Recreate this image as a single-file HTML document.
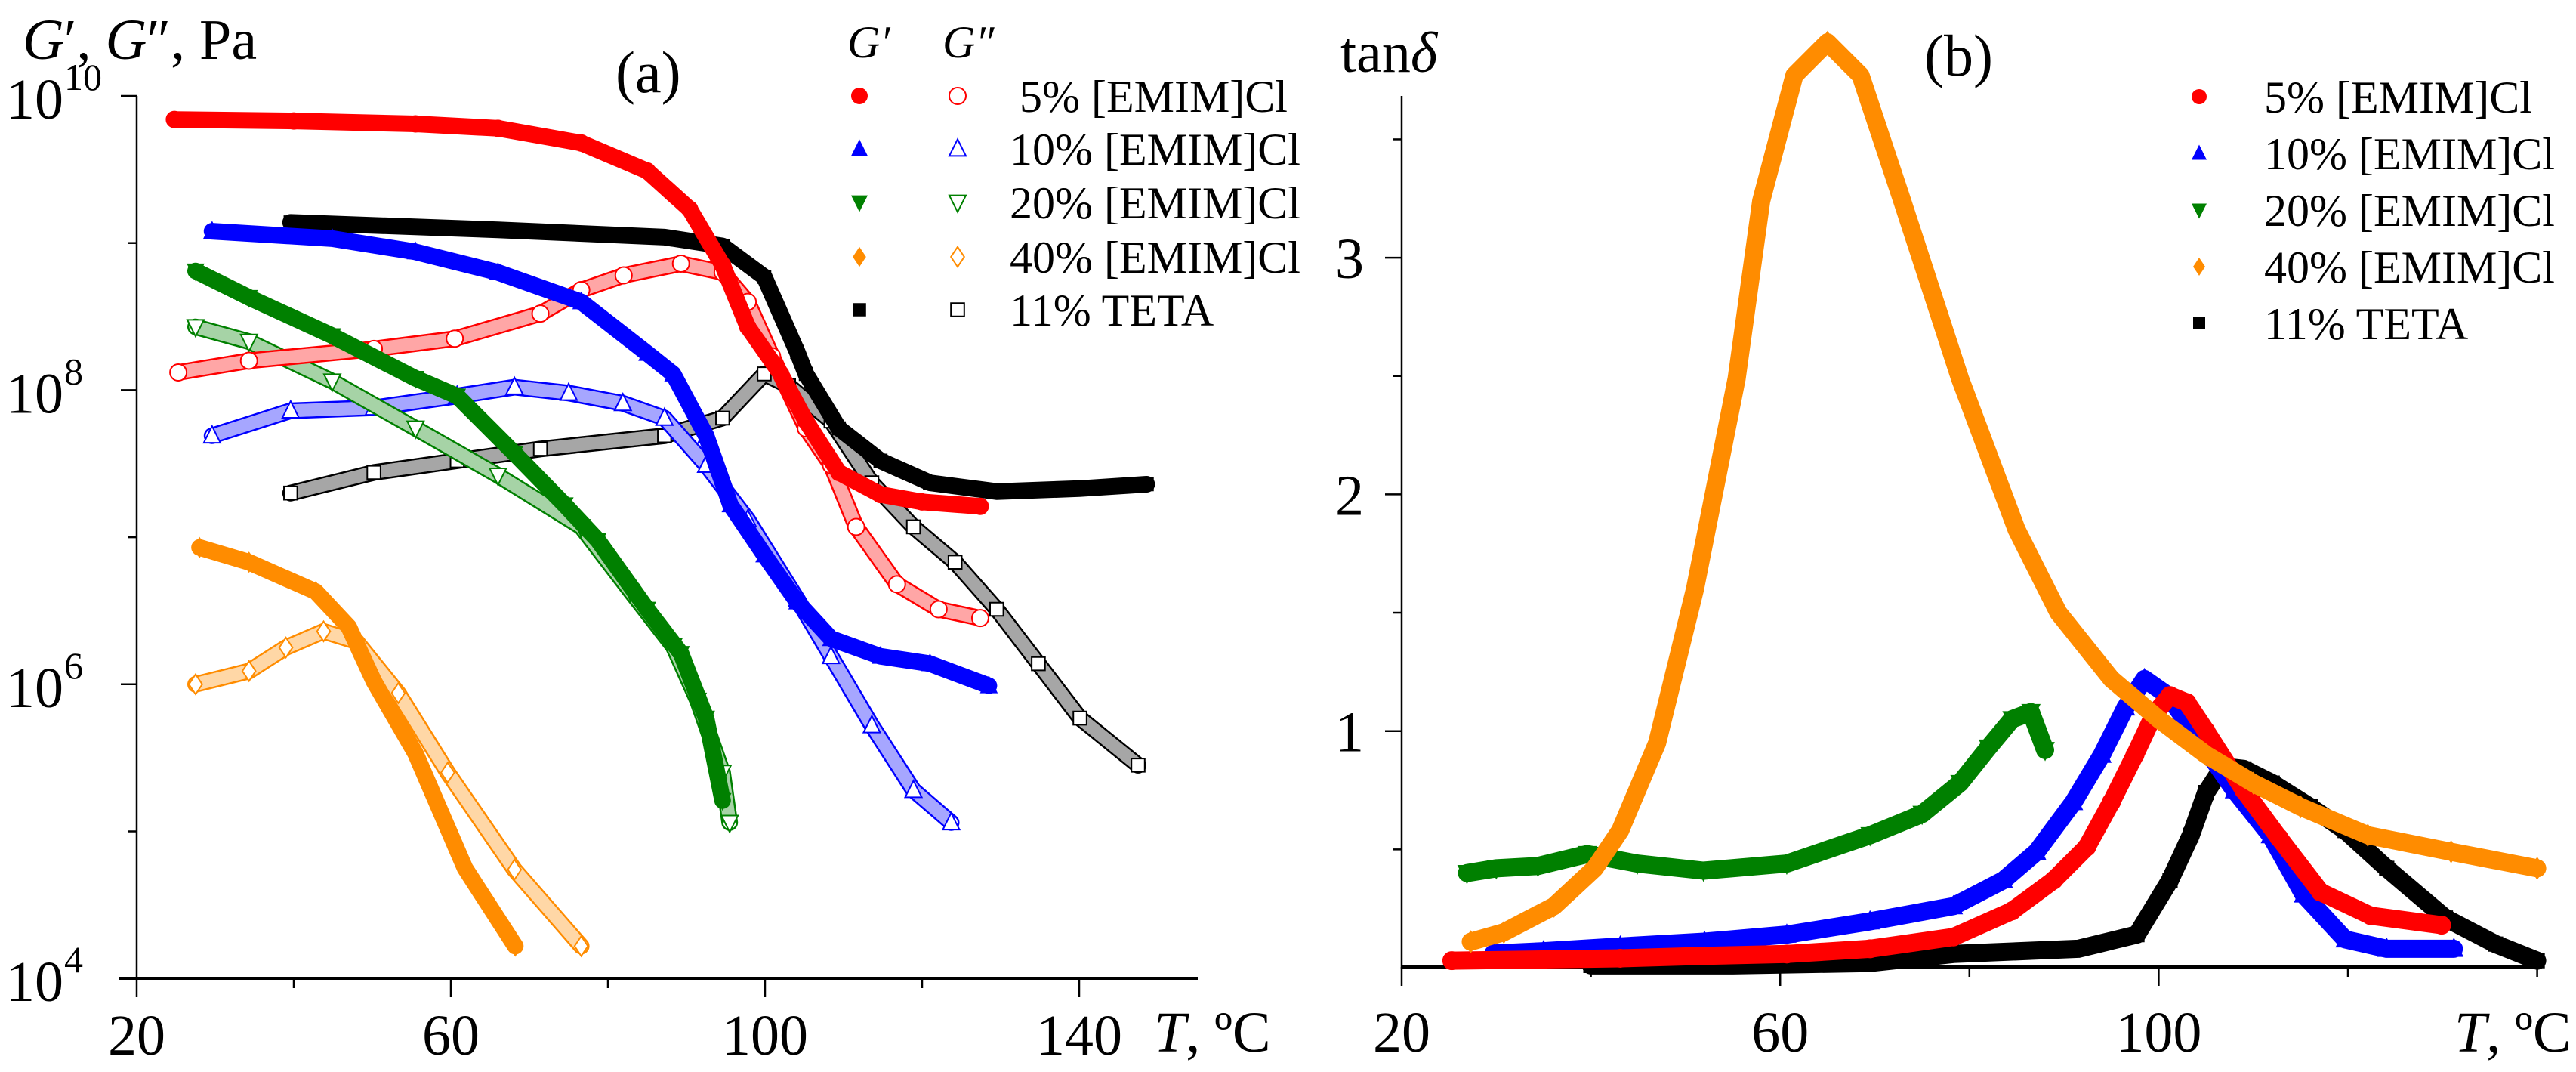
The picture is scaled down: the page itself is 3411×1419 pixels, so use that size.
<!DOCTYPE html>
<html><head><meta charset="utf-8"><title>G', G'' and tan delta vs temperature</title>
<style>
html,body{margin:0;padding:0;background:#fff;}
svg{display:block;font-family:"Liberation Serif","DejaVu Serif",serif;}
</style></head>
<body>
<svg id="chart" xmlns="http://www.w3.org/2000/svg" width="3411" height="1419" viewBox="0 0 3411 1419">
<rect x="0" y="0" width="3411" height="1419" fill="#fff"/>
<g id="panelA">
  <text x="30" y="78" font-size="76"><tspan font-style="italic">G</tspan>′, <tspan font-style="italic">G</tspan>″, Pa</text>
  <text x="815" y="122" font-size="78">(a)</text>
  <text x="1528" y="1392" font-size="76"><tspan font-style="italic">T</tspan>, ºC</text>
  <g id="legendA">
    <text x="1122" y="76" font-size="60" font-style="italic">G′</text>
    <text x="1248" y="76" font-size="60" font-style="italic">G″</text>
  </g>
</g>
<g id="panelB">
  <text x="1775" y="95" font-size="76">tan<tspan font-style="italic">δ</tspan></text>
  <text x="2548" y="100" font-size="78">(b)</text>
  <text x="3250" y="1392" font-size="76"><tspan font-style="italic">T</tspan>, ºC</text>
  <g id="legendB"></g>
</g>
</svg>
<script>
// ---------- Panel (a) data: temperature (°C) and log10(G / Pa) ----------
const gp5T   = [24.8,40,55.5,66,76.6,85,90.4,94.6,97.8,102,105.2,109.4,114.7,120,127.4];
const gp5    = [9.84,9.83,9.81,9.78,9.68,9.49,9.23,8.85,8.43,8.11,7.79,7.44,7.29,7.24,7.21];
const gpp5T  = [25.3,34.3,50.2,60.5,71.4,76.6,82,89.3,94.6,97.8,100.9,105.2,108.4,111.6,116.8,122.1,127.4];
const gpp5   = [8.12,8.20,8.28,8.35,8.52,8.68,8.78,8.86,8.80,8.60,8.23,7.74,7.49,7.07,6.68,6.51,6.45];
const gp10T  = [29.6,44.9,55.5,66,76.6,85,88.3,92.5,95.6,99.9,104.1,108.4,114.7,121,128.5];
const gp10   = [9.08,9.03,8.94,8.80,8.60,8.25,8.11,7.69,7.22,6.88,6.56,6.31,6.19,6.14,5.99];
const gpp10T = [29.6,39.6,50.2,60.8,68.1,75,81.9,87.2,92.5,97.8,104.1,108.4,113.6,118.9,123.7];
const gpp10  = [7.69,7.86,7.88,7.96,8.02,7.98,7.91,7.81,7.49,7.12,6.58,6.19,5.72,5.28,5.06];
const gp20T  = [27.5,34.3,44.9,55.5,60.8,68.1,74.5,78.7,85,89.3,92.5,94.6];
const gp20   = [8.81,8.63,8.37,8.08,7.96,7.57,7.22,6.98,6.51,6.21,5.77,5.21];
const gpp20T = [27.5,34.3,44.9,55.5,66,76.6,82.9,88.3,91.4,94.6,95.5];
const gpp20  = [8.43,8.33,8.06,7.74,7.42,7.07,6.63,6.26,5.89,5.40,5.06];
const gp40T  = [28,34.3,42.8,47,50.2,55.5,61.8,68.2];
const gp40   = [6.93,6.83,6.63,6.39,6.02,5.53,4.75,4.22];
const gpp40T = [27.5,34.3,39,43.8,48,53.3,59.6,68.1,76.6];
const gpp40  = [6.00,6.09,6.25,6.36,6.29,5.94,5.40,4.74,4.22];
const gpTetaT  = [39.6,66,87.2,94.6,99.9,104.1,105.2,109.4,114.7,121,129.5,140,148.6];
const gpTeta   = [9.14,9.09,9.04,8.98,8.77,8.26,8.11,7.74,7.52,7.37,7.31,7.33,7.36];
const gppTetaT = [39.6,50.2,60.8,71.4,87.2,94.6,99.9,103,108.4,113.6,118.9,124.2,129.5,134.8,140.1,147.5];
const gppTeta  = [7.30,7.44,7.52,7.60,7.69,7.81,8.11,8.03,7.79,7.37,7.07,6.83,6.51,6.14,5.77,5.45];
const xTicksA = [20,60,100,140];
const xMinorA = [40,80,120];
const yTicksA = [10,8,6,4];
const yMinorA = [9,7,5];
const legendLabels = ["5% [EMIM]Cl","10% [EMIM]Cl","20% [EMIM]Cl","40% [EMIM]Cl","11% TETA"];

// ---------- Panel (b) data: temperature (°C) and tan delta ----------
const td40T = [27.3,30.8,36.1,40.4,43.1,47,51,55.4,58,61.5,65,68.5,72.9,79,85,89.4,95,100,105,110,115,122.1,130.9,140];
const td40  = [0.11,0.15,0.26,0.42,0.58,0.95,1.6,2.49,3.24,3.77,3.91,3.77,3.24,2.49,1.85,1.5,1.22,1.05,0.9,0.78,0.68,0.56,0.49,0.42];
const td20T = [26.9,30,34.4,39.6,44.9,51.9,60.7,69.5,75,79,82,84.5,86.5,88];
const td20  = [0.40,0.42,0.43,0.48,0.44,0.41,0.44,0.56,0.65,0.78,0.93,1.05,1.08,0.92];
const td10T = [29.7,35,43.1,52,60.7,69.5,78.3,83.6,87.1,91,94,96.5,98.5,101,104,108,111.8,115.3,119.7,124.1,131.2];
const td10  = [0.06,0.07,0.09,0.11,0.14,0.196,0.26,0.37,0.49,0.7,0.9,1.1,1.22,1.15,0.98,0.75,0.56,0.31,0.12,0.08,0.08];
const td5T  = [25.3,35,43.1,52,60.7,69.5,78.3,84.5,88.9,92.4,95,97.5,99.5,101.2,103,105,109,112.7,117.1,122.4,129.9];
const td5   = [0.03,0.035,0.04,0.05,0.058,0.08,0.13,0.24,0.37,0.51,0.7,0.9,1.07,1.15,1.12,1.0,0.75,0.55,0.32,0.22,0.18];
const tdTetaT = [40,55,69.5,78.3,91.5,97.7,101.2,103.4,105,106.8,109,112,116,119.7,124.1,130.3,135.6,140];
const tdTeta  = [0.01,0.01,0.02,0.058,0.08,0.14,0.37,0.56,0.74,0.85,0.84,0.78,0.68,0.58,0.42,0.21,0.10,0.03];
const xTicksB = [20,60,100];
const xMinorB = [40,80,120,140];
const yTicksB = [1,2,3];
const yMinorB = [0.5,1.5,2.5,3.5];

const NS = "http://www.w3.org/2000/svg";
const svg = document.getElementById('chart');
const gA = document.getElementById('panelA');
const gB = document.getElementById('panelB');
const legA = document.getElementById('legendA');
const legB = document.getElementById('legendB');

function xA(t){ return 181 + (t - 20) * 10.4; }
function yA(l){ return 127 + (10 - l) * 194.7; }
function xB(t){ return 1856 + (t - 20) * 12.53; }
function yB(v){ return 1281 - v * 313.3; }

function el(tag, parent){ const e = document.createElementNS(NS, tag); parent.appendChild(e); return e; }

function markerPath(shape, cx, cy, s){
  const h = s/2;
  if (shape === 'circle') return `M${cx-h},${cy}a${h},${h} 0 1,0 ${s},0a${h},${h} 0 1,0 ${-s},0Z`;
  if (shape === 'up') return `M${cx},${cy-h*1.15}L${cx+h},${cy+h*0.85}L${cx-h},${cy+h*0.85}Z`;
  if (shape === 'down') return `M${cx},${cy+h*1.15}L${cx+h},${cy-h*0.85}L${cx-h},${cy-h*0.85}Z`;
  if (shape === 'diamond') return `M${cx},${cy-h*1.2}L${cx+h*0.8},${cy}L${cx},${cy+h*1.2}L${cx-h*0.8},${cy}Z`;
  return `M${cx-h*0.8},${cy-h*0.8}h${h*1.6}v${h*1.6}h${-h*1.6}Z`;
}

function drawSeries(parent, name, xs, ys, fx, fy, color, shape, filled, size){
  const g = el('g', parent);
  
  
  const d = xs.map((t,i)=> (i?'L':'M') + fx(t).toFixed(1) + ',' + fy(ys[i]).toFixed(1)).join('');
  const band = el('path', g);
  
  
  band.setAttribute('d', d);
  band.setAttribute('fill', 'none');
  band.setAttribute('stroke', color);
  band.setAttribute('stroke-width', size);
  band.setAttribute('stroke-linejoin', 'round');
  band.setAttribute('stroke-linecap', 'round');
  if (!filled){
    const inner = el('path', g);
    
    
    inner.setAttribute('d', d);
    inner.setAttribute('fill', 'none');
    inner.setAttribute('stroke', '#fff');
    inner.setAttribute('stroke-width', size - 5);
    inner.setAttribute('stroke-linejoin', 'round');
    inner.setAttribute('stroke-linecap', 'round');
    const hatch = el('path', g);
    
    
    hatch.setAttribute('d', d);
    hatch.setAttribute('fill', 'none');
    hatch.setAttribute('stroke', color);
    hatch.setAttribute('stroke-opacity', '0.35');
    hatch.setAttribute('stroke-width', size - 5);
    hatch.setAttribute('stroke-linejoin', 'round');
  }
  xs.forEach((t,i)=>{
    const m = el('path', g);
    
    
    m.setAttribute('d', markerPath(shape, fx(t), fy(ys[i]), size));
    m.setAttribute('fill', filled ? color : '#fff');
    m.setAttribute('stroke', color);
    m.setAttribute('stroke-width', filled ? 1 : 2);
  });
}

function line(parent, name, x1, y1, x2, y2, w){
  const l = el('line', parent);
  
  
  l.setAttribute('x1', x1); l.setAttribute('y1', y1);
  l.setAttribute('x2', x2); l.setAttribute('y2', y2);
  l.setAttribute('stroke', '#000'); l.setAttribute('stroke-width', w);
}
function text(parent, name, x, y, s, size, anchor){
  const t = el('text', parent);
  
  
  t.setAttribute('x', x); t.setAttribute('y', y);
  t.setAttribute('font-size', size);
  if (anchor) t.setAttribute('text-anchor', anchor);
  t.textContent = s;
  return t;
}

// ---------- Axes (a) ----------
line(gA, 'y-axis-a', 181, 127, 181, 1296, 2.5);
line(gA, 'x-axis-a', 157, 1295, 1586, 1295, 4);
xTicksA.forEach(t=>{
  line(gA, 'x-tick-a', xA(t), 1295, xA(t), 1320, 2.5);
  text(gA, 'x-tick-label-a', xA(t), 1396, String(t), 76, 'middle');
});
xMinorA.forEach(t=> line(gA, 'x-minor-tick-a', xA(t), 1295, xA(t), 1308, 2.5));
yTicksA.forEach(l=>{
  line(gA, 'y-tick-a', 160, yA(l), 181, yA(l), 2.5);
  text(gA, 'y-tick-label-a', 84, yA(l) + 30, '10', 76, 'end');
  text(gA, 'y-tick-exponent-a', 85, yA(l) - 8, String(l), 50, 'start');
});
yMinorA.forEach(l=> line(gA, 'y-minor-tick-a', 170, yA(l), 181, yA(l), 2.5));

// ---------- Series (a) ----------
const SZ = 22;
drawSeries(gA, 'g-double-prime-teta', gppTetaT, gppTeta, xA, yA, '#000', 'square', false, SZ);
drawSeries(gA, 'g-double-prime-10', gpp10T, gpp10, xA, yA, '#0000ff', 'up', false, SZ);
drawSeries(gA, 'g-double-prime-20', gpp20T, gpp20, xA, yA, '#008000', 'down', false, SZ);
drawSeries(gA, 'g-double-prime-5', gpp5T, gpp5, xA, yA, '#ff0000', 'circle', false, SZ);
drawSeries(gA, 'g-double-prime-40', gpp40T, gpp40, xA, yA, '#ff8c00', 'diamond', false, SZ);
drawSeries(gA, 'g-prime-teta', gpTetaT, gpTeta, xA, yA, '#000', 'square', true, SZ);
drawSeries(gA, 'g-prime-10', gp10T, gp10, xA, yA, '#0000ff', 'up', true, SZ);
drawSeries(gA, 'g-prime-20', gp20T, gp20, xA, yA, '#008000', 'down', true, SZ);
drawSeries(gA, 'g-prime-5', gp5T, gp5, xA, yA, '#ff0000', 'circle', true, SZ);
drawSeries(gA, 'g-prime-40', gp40T, gp40, xA, yA, '#ff8c00', 'diamond', true, SZ);

// ---------- Legend (a) ----------
const legColors = ['#ff0000','#0000ff','#008000','#ff8c00','#000'];
const legShapes = ['circle','up','down','diamond','square'];
const legRowsA = [127,197,268,340,410];
legendLabels.forEach((lab,i)=>{
  const f = el('path', legA);
  
  
  f.setAttribute('d', markerPath(legShapes[i], 1138, legRowsA[i], 22));
  f.setAttribute('fill', legColors[i]);
  const o = el('path', legA);
  
  
  o.setAttribute('d', markerPath(legShapes[i], 1268, legRowsA[i], 22));
  o.setAttribute('fill', '#fff');
  o.setAttribute('stroke', legColors[i]);
  o.setAttribute('stroke-width', 2);
  text(legA, 'legend-label-a', i === 0 ? 1350 : 1337, legRowsA[i] + 21, lab, 60, 'start');
});

// ---------- Axes (b) ----------
line(gB, 'y-axis-b', 1856, 127, 1856, 1282, 2.5);
line(gB, 'x-axis-b', 1856, 1280, 3361, 1280, 4);
xTicksB.forEach(t=>{
  line(gB, 'x-tick-b', xB(t), 1280, xB(t), 1305, 2.5);
  text(gB, 'x-tick-label-b', xB(t), 1392, String(t), 76, 'middle');
});
xMinorB.forEach(t=> line(gB, 'x-minor-tick-b', xB(t), 1280, xB(t), 1293, 2.5));
yTicksB.forEach(v=>{
  line(gB, 'y-tick-b', 1834, yB(v), 1856, yB(v), 2.5);
  text(gB, 'y-tick-label-b', 1806, yB(v) + 27, String(v), 76, 'end');
});
yMinorB.forEach(v=> line(gB, 'y-minor-tick-b', 1845, yB(v), 1856, yB(v), 2.5));

// ---------- Series (b) ----------
const SB = 24;
drawSeries(gB, 'tan-delta-teta', tdTetaT, tdTeta, xB, yB, '#000', 'square', true, SB);
drawSeries(gB, 'tan-delta-20', td20T, td20, xB, yB, '#008000', 'down', true, SB);
drawSeries(gB, 'tan-delta-10', td10T, td10, xB, yB, '#0000ff', 'up', true, SB);
drawSeries(gB, 'tan-delta-5', td5T, td5, xB, yB, '#ff0000', 'circle', true, SB);
drawSeries(gB, 'tan-delta-40', td40T, td40, xB, yB, '#ff8c00', 'diamond', true, SB);

// ---------- Legend (b) ----------
const legRowsB = [128,203,278,353,428];
legendLabels.forEach((lab,i)=>{
  const f = el('path', legB);
  
  
  f.setAttribute('d', markerPath(legShapes[i], 2912, legRowsB[i], 20));
  f.setAttribute('fill', legColors[i]);
  text(legB, 'legend-label-b', 2998, legRowsB[i] + 21, lab, 60, 'start');
});
</script>
</body></html>
